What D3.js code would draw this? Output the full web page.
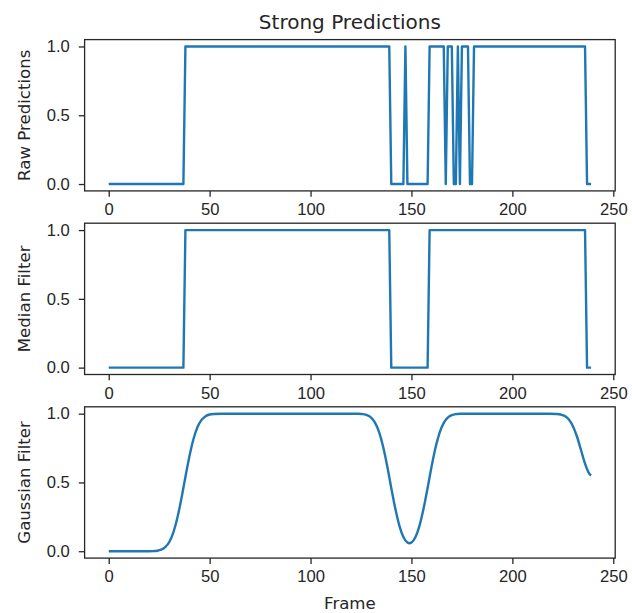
<!DOCTYPE html>
<html>
<head>
<meta charset="utf-8">
<script src="https://cdn.jsdelivr.net/npm/d3@7"></script>
<style>
  body { margin: 0; background: #fff; }
  svg { font-family: "DejaVu Sans", sans-serif; }
  .tick text { fill: #262626; font-size: 16.6px; }
  .tick line { stroke: #262626; stroke-width: 1.3; }
</style>
</head>
<body>
<svg id="chart" width="632" height="613"></svg>
<script>
  // ---- data ----
  var rawPredictions = [
    0,0,0,0,0,0,0,0,0,0,0,0,0,0,0,0,0,0,0,0,
    0,0,0,0,0,0,0,0,0,0,0,0,0,0,0,0,0,0,1,1,
    1,1,1,1,1,1,1,1,1,1,1,1,1,1,1,1,1,1,1,1,
    1,1,1,1,1,1,1,1,1,1,1,1,1,1,1,1,1,1,1,1,
    1,1,1,1,1,1,1,1,1,1,1,1,1,1,1,1,1,1,1,1,
    1,1,1,1,1,1,1,1,1,1,1,1,1,1,1,1,1,1,1,1,
    1,1,1,1,1,1,1,1,1,1,1,1,1,1,1,1,1,1,1,1,
    0,0,0,0,0,0,0,1,0,0,0,0,0,0,0,0,0,0,0,1,
    1,1,1,1,1,1,1,0,1,1,1,0,0,1,0,1,1,1,1,0,
    0,1,1,1,1,1,1,1,1,1,1,1,1,1,1,1,1,1,1,1,
    1,1,1,1,1,1,1,1,1,1,1,1,1,1,1,1,1,1,1,1,
    1,1,1,1,1,1,1,1,1,1,1,1,1,1,1,1,1,0,0,0
  ];
  var medianFilter = [
    0,0,0,0,0,0,0,0,0,0,0,0,0,0,0,0,0,0,0,0,
    0,0,0,0,0,0,0,0,0,0,0,0,0,0,0,0,0,0,1,1,
    1,1,1,1,1,1,1,1,1,1,1,1,1,1,1,1,1,1,1,1,
    1,1,1,1,1,1,1,1,1,1,1,1,1,1,1,1,1,1,1,1,
    1,1,1,1,1,1,1,1,1,1,1,1,1,1,1,1,1,1,1,1,
    1,1,1,1,1,1,1,1,1,1,1,1,1,1,1,1,1,1,1,1,
    1,1,1,1,1,1,1,1,1,1,1,1,1,1,1,1,1,1,1,1,
    0,0,0,0,0,0,0,0,0,0,0,0,0,0,0,0,0,0,0,1,
    1,1,1,1,1,1,1,1,1,1,1,1,1,1,1,1,1,1,1,1,
    1,1,1,1,1,1,1,1,1,1,1,1,1,1,1,1,1,1,1,1,
    1,1,1,1,1,1,1,1,1,1,1,1,1,1,1,1,1,1,1,1,
    1,1,1,1,1,1,1,1,1,1,1,1,1,1,1,1,1,0,0,0
  ];
  // smoothed curve, sampled where it bends
  var gaussFrames = [0, 20, 22, 24, 26, 28, 30, 32, 34, 36, 38, 40, 42, 44, 46, 48, 50, 52, 56,
    120, 124, 126, 128, 130, 132, 134, 136, 138, 140, 142, 144, 146, 148, 149, 150, 152, 154, 156, 158,
    160, 162, 164, 166, 168, 170, 172, 174, 178,
    218, 222, 224, 226, 228, 230, 232, 234, 236, 238, 239];
  var gaussValues = [0, 0, 0.001, 0.0035, 0.011, 0.029, 0.067, 0.136, 0.242, 0.382, 0.540, 0.691, 0.816, 0.903, 0.955, 0.982, 0.994, 0.998, 1,
    1, 0.999, 0.9965, 0.989, 0.971, 0.933, 0.864, 0.758, 0.618, 0.460, 0.310, 0.186, 0.103, 0.063, 0.058, 0.063, 0.103, 0.186, 0.310, 0.460,
    0.618, 0.758, 0.864, 0.933, 0.971, 0.989, 0.9965, 0.999, 1,
    1, 0.998, 0.994, 0.983, 0.957, 0.909, 0.834, 0.736, 0.637, 0.566, 0.551];

  var xTicks = [0, 50, 100, 150, 200, 250];
  var yTicks = [0, 0.5, 1.0];
  var panelLabels = ["Raw Predictions", "Median Filter", "Gaussian Filter"];
  var title = "Strong Predictions";
  var xLabel = "Frame";

  var panels = [
    rawPredictions.map(function(v, i) { return [i, v]; }),
    medianFilter.map(function(v, i) { return [i, v]; }),
    gaussFrames.map(function(f, i) { return [f, gaussValues[i]]; })
  ];

  var svg = d3.select("#chart"),
      left = 84.6, right = 615.2,
      panelTops = [39.6, 223.2, 406.8],
      panelH = 151.3;

  var x = d3.scaleLinear().domain([-11.95, 250.95]).range([left, right]);

  panels.forEach(function(pts, k) {
    var top = panelTops[k];
    var y = d3.scaleLinear().domain([-0.05, 1.05]).range([top + panelH, top]);

    var line = d3.line()
      .x(function(d) { return x(d[0]); })
      .y(function(d) { return y(d[1]); });
    if (k == 2) line.curve(d3.curveMonotoneX);

    svg.append("path")
      .datum(pts)
      .attr("fill", "none")
      .attr("stroke", "#1f77b4")
      .attr("stroke-width", 2.4)
      .attr("stroke-linejoin", "round")
      .attr("d", line);

    // x axis
    var gx = svg.append("g")
      .attr("transform", "translate(0," + (top + panelH) + ")")
      .call(d3.axisBottom(x).tickValues(xTicks).tickSize(5.8).tickPadding(6.5).tickFormat(d3.format("d")));
    gx.select(".domain").remove();

    // y axis
    var gy = svg.append("g")
      .attr("transform", "translate(" + left + ",0)")
      .call(d3.axisLeft(y).tickValues(yTicks).tickSize(5.8).tickPadding(9).tickFormat(d3.format(".1f")));
    gy.select(".domain").remove();

    // frame
    svg.append("rect")
      .attr("x", left).attr("y", top)
      .attr("width", right - left).attr("height", panelH)
      .attr("fill", "none")
      .attr("stroke", "#262626")
      .attr("stroke-width", 1.3);

    svg.append("text")
      .attr("transform", "translate(30," + (top + panelH / 2) + ") rotate(-90)")
      .attr("text-anchor", "middle")
      .attr("fill", "#262626")
      .style("font-size", "16.6px")
      .text(panelLabels[k]);
  });

  svg.append("text")
    .attr("x", (left + right) / 2)
    .attr("y", 29)
    .attr("text-anchor", "middle")
    .attr("fill", "#262626")
    .style("font-size", "20px")
    .text(title);

  svg.append("text")
    .attr("x", (left + right) / 2)
    .attr("y", 609)
    .attr("text-anchor", "middle")
    .attr("fill", "#262626")
    .style("font-size", "16.6px")
    .text(xLabel);
</script>
</body>
</html>
